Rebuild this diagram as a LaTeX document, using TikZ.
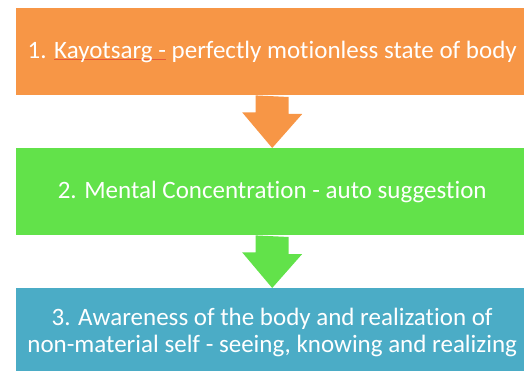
\documentclass[tikz,border=0pt]{standalone}
\usepackage{fontspec}
\setmainfont{Carlito}[Ligatures={NoCommon,NoRequired,NoContextual}]
\definecolor{corange}{HTML}{F79646}
\definecolor{cgreen}{HTML}{62E24A}
\definecolor{cblue}{HTML}{4BACC6}
\definecolor{cred}{HTML}{E8593A}
\newcommand\squig[1]{\setbox0\hbox{#1}\rlap{\color{cred}\rule[-1.8pt]{\wd0}{0.9pt}}\box0\relax}
\newcommand\flowarrow[3]{\fill[#3] ([xshift=-16.5pt]#1.south) -- ++(0,17) -- ++(-13.5,0) -- (#2.north) -- ++(30,-34) -- ++(-13.5,0) -- ++(0,-17) -- cycle;}
\begin{document}
\begin{tikzpicture}[x=1pt,y=-1pt,
  stepbox/.style={minimum width=512pt,minimum height=87pt,inner sep=0pt,
    text=white,font=\fontsize{25}{27}\selectfont,align=center,anchor=north west}]
\useasboundingbox (0,0) rectangle (524,371);
\clip (0,0) rectangle (524,371);
\node[stepbox,fill=corange] (b1) at (16,8) {1. \squig{Kayotsarg -} perfectly motionless state of body};
\node[stepbox,fill=cgreen] (b2) at (16,148) {2. Mental Concentration - auto suggestion};
\node[stepbox,fill=cblue,minimum height=88pt] (b3) at (16,288) {3. Awareness of the body and realization of\\non-material self - seeing, knowing and realizing};
\flowarrow{b1}{b2}{corange}
\flowarrow{b2}{b3}{cgreen}
\end{tikzpicture}
\end{document}
